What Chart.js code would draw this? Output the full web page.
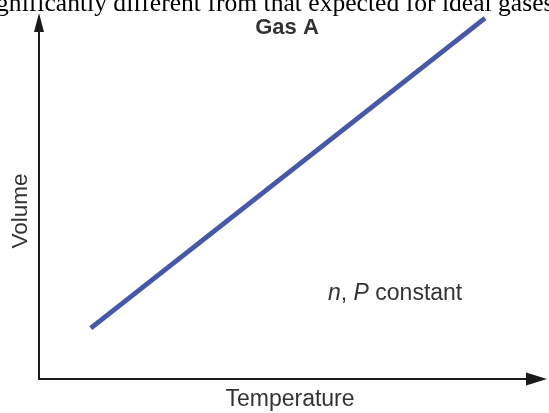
<!DOCTYPE html>
<html>
<head>
<meta charset="utf-8">
<script src="https://cdn.jsdelivr.net/npm/chart.js@4.4.1/dist/chart.umd.min.js"></script>
<style>
  html, body { margin: 0; padding: 0; background: #fff; }
  #wrap { width: 549px; height: 413px; position: relative; }
</style>
</head>
<body>
<div id="wrap"><canvas id="gasChart" width="549" height="413"></canvas></div>
<script>
// Gas A: volume vs temperature at constant n and P (arbitrary units 0-100)
const temperature = [10.2, 87.8];
const volume = [13.9, 98.6];

const chartTitle = 'Gas A';
const xLabel = 'Temperature';
const yLabel = 'Volume';
const pageText = 'significantly different from that expected for ideal gases';

function drawText(ctx, text, x, y, font, align) {
  ctx.font = font;
  ctx.textAlign = align || 'center';
  ctx.textBaseline = 'alphabetic';
  ctx.fillText(text, x, y);
}

const figurePlugin = {
  id: 'figure',
  afterDraw(chart) {
    const ctx = chart.ctx;
    const a = chart.chartArea;
    ctx.save();

    // axes with arrowheads
    ctx.strokeStyle = '#1a1a1a';
    ctx.fillStyle = '#1a1a1a';
    ctx.lineWidth = 2;
    ctx.beginPath();
    ctx.moveTo(a.left, a.top + 10);
    ctx.lineTo(a.left, a.bottom);
    ctx.lineTo(a.right - 10, a.bottom);
    ctx.stroke();

    ctx.beginPath();
    ctx.moveTo(a.left, a.top);
    ctx.lineTo(a.left - 5, a.top + 19);
    ctx.lineTo(a.left + 5, a.top + 19);
    ctx.closePath();
    ctx.fill();

    ctx.beginPath();
    ctx.moveTo(a.right, a.bottom);
    ctx.lineTo(a.right - 21, a.bottom - 6.5);
    ctx.lineTo(a.right - 21, a.bottom + 6.5);
    ctx.closePath();
    ctx.fill();

    // labels
    ctx.fillStyle = '#333';
    const sans = '"Liberation Sans", Arial, sans-serif';
    drawText(ctx, chartTitle, 287, 34, 'bold 22px ' + sans);
    drawText(ctx, xLabel, 290, 406, '23px ' + sans);

    ctx.save();
    ctx.translate(27, 211);
    ctx.rotate(-Math.PI / 2);
    drawText(ctx, yLabel, 0, 0, '22.5px ' + sans);
    ctx.restore();

    // n, P constant (n and P italic)
    let x = 328;
    const parts = [['n', 'italic '], [', ', ''], ['P', 'italic '], [' constant', '']];
    for (const [t, style] of parts) {
      drawText(ctx, t, x, 300, style + '23px ' + sans, 'left');
      x += ctx.measureText(t).width;
    }

    // running text above the figure, cut by the top edge
    ctx.fillStyle = '#000';
    drawText(ctx, pageText, -21, 10.5, '25.6px "Liberation Serif", "Times New Roman", serif', 'left');

    ctx.restore();
  }
};

new Chart(document.getElementById('gasChart'), {
  type: 'scatter',
  data: {
    datasets: [{
      data: temperature.map((t, i) => ({ x: t, y: volume[i] })),
      showLine: true,
      borderColor: 'rgb(72, 88, 168)',
      borderWidth: 5,
      borderCapStyle: 'butt',
      pointRadius: 0,
      fill: false
    }]
  },
  options: {
    responsive: false,
    animation: false,
    layout: { padding: { left: 39, top: 13, right: 2, bottom: 34 } },
    plugins: { legend: { display: false }, tooltip: { enabled: false } },
    scales: {
      x: { type: 'linear', min: 0, max: 100, display: false },
      y: { type: 'linear', min: 0, max: 100, display: false }
    }
  },
  plugins: [figurePlugin]
});
</script>
</body>
</html>
